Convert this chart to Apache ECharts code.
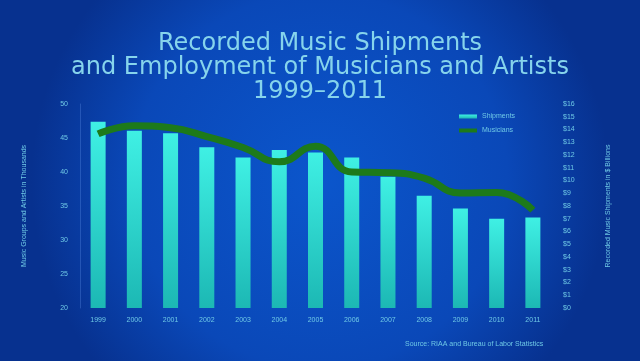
<!DOCTYPE html>
<html><head><meta charset="utf-8">
<script src="https://cdn.jsdelivr.net/npm/echarts@6/dist/echarts.min.js"></script>
<style>html,body{margin:0;padding:0;background:#0a3fa8}#c{width:640px;height:361px}</style>
</head><body><div id="c"></div>
<script>
var years = ['1999','2000','2001','2002','2003','2004','2005','2006','2007','2008','2009','2010','2011'];
var shipments = [14.6, 13.9, 13.7, 12.6, 11.8, 12.4, 12.2, 11.8, 10.3, 8.8, 7.8, 7.0, 7.1];
var musicians = [45.6, 46.8, 46.5, 45.2, 43.6, 41.5, 43.8, 40.0, 39.9, 39.1, 36.9, 37.0, 34.4];
var leftTicks = {min: 20, max: 50, interval: 5};
var rightTicks = {min: 0, max: 16, interval: 1};
var txt = '#6fc9e6';
var chart = echarts.init(document.getElementById('c'));
chart.setOption({
  backgroundColor: {type: 'radial', x: 0.5, y: 0.5, r: 0.8, colorStops: [
    {offset: 0, color: '#0b56cc'}, {offset: 0.65, color: '#0a48b8'}, {offset: 1, color: '#07318f'}]},
  legend: {
    orient: 'vertical', left: 454, top: 108, itemWidth: 18, itemHeight: 4, itemGap: 7,
    textStyle: {color: txt, fontSize: 7, fontFamily: 'Liberation Sans'},
    data: [{name: 'Shipments', icon: 'rect'}, {name: 'Musicians', icon: 'rect'}]
  },
  grid: {left: 80, right: 89, top: 104, bottom: 53},
  xAxis: {
    type: 'category', data: years,
    axisLine: {show: false}, axisTick: {show: false},
    axisLabel: {color: txt, fontSize: 7, margin: 9, fontFamily: 'Liberation Sans'}
  },
  yAxis: [{
    type: 'value', min: leftTicks.min, max: leftTicks.max, interval: leftTicks.interval,
    name: 'Music Groups and Artists in Thousands', nameLocation: 'middle', nameGap: 52,
    nameTextStyle: {color: txt, fontSize: 7, fontFamily: 'Liberation Sans'},
    axisLine: {show: true, lineStyle: {color: 'rgba(120,170,255,0.25)'}}, axisTick: {show: false},
    axisLabel: {color: txt, fontSize: 7, margin: 12, fontFamily: 'Liberation Sans'},
    splitLine: {show: false}
  }, {
    type: 'value', min: rightTicks.min, max: rightTicks.max, interval: rightTicks.interval,
    name: 'Recorded Music Shipments in $ Billions', nameLocation: 'middle', nameGap: 54, nameRotate: 90,
    nameTextStyle: {color: txt, fontSize: 7, fontFamily: 'Liberation Sans'},
    axisLine: {show: false}, axisTick: {show: false},
    axisLabel: {color: txt, fontSize: 7, margin: 12, formatter: '${value}', fontFamily: 'Liberation Sans'},
    splitLine: {show: false}
  }],
  series: [{
    name: 'Shipments', type: 'bar', yAxisIndex: 1, data: shipments, barWidth: 15,
    itemStyle: {color: {type: 'linear', x: 0, y: 0, x2: 0, y2: 1, colorStops: [
      {offset: 0, color: '#3ff0e4'}, {offset: 1, color: '#1cb8b4'}]}}
  }, {
    name: 'Musicians', type: 'line', yAxisIndex: 0, data: musicians, smooth: true,
    showSymbol: false, symbol: 'none',
    lineStyle: {color: '#1d7a1a', width: 7}, itemStyle: {color: '#1d7a1a'}
  }],
  graphic: [{
    type: 'text', x: 320, y: 32,
    style: {text: 'Recorded Music Shipments\nand Employment of Musicians and Artists\n1999\u20132011',
      textAlign: 'center', fill: '#86d4ec', fontSize: 24, lineHeight: 24, fontFamily: 'DejaVu Sans'}
  }, {
    type: 'text', left: 405, top: 341,
    style: {text: 'Source: RIAA and Bureau of Labor Statistics', fill: txt, fontSize: 7, fontFamily: 'Liberation Sans'}
  }]
});
</script></body></html>
